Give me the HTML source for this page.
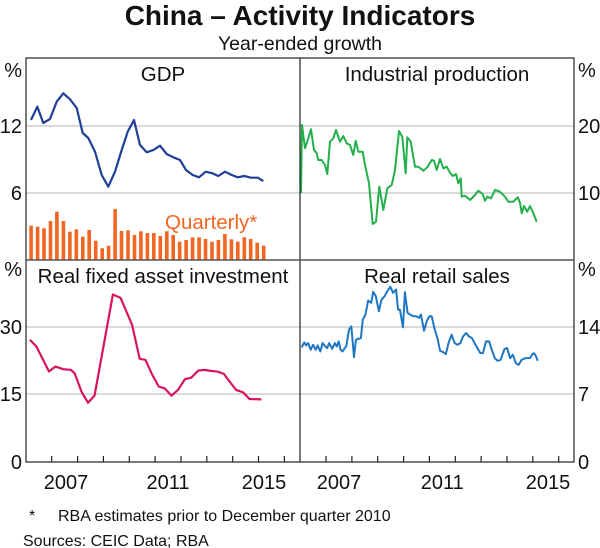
<!DOCTYPE html>
<html><head><meta charset="utf-8"><style>
body{margin:0;background:#fff;}
svg{display:block;font-family:"Liberation Sans",Arial,sans-serif;}
</style></head><body>
<svg width="600" height="548" viewBox="0 0 600 548" xmlns="http://www.w3.org/2000/svg">
<text x="300" y="25" text-anchor="middle" font-size="28" font-weight="bold" fill="#111">China – Activity Indicators</text>
<text x="300" y="50" text-anchor="middle" font-size="19.5" fill="#111">Year-ended growth</text>

<g stroke="#c4c4c4" stroke-width="1.2">
<line x1="26" y1="126" x2="574" y2="126"/>
<line x1="26" y1="193" x2="574" y2="193"/>
<line x1="26" y1="327" x2="574" y2="327"/>
<line x1="26" y1="394" x2="574" y2="394"/>
</g>

<g fill="#f26522">
<rect x="29.3" y="225.7" width="3.6" height="34.3"/>
<rect x="35.8" y="226.7" width="3.6" height="33.3"/>
<rect x="42.2" y="228.3" width="3.6" height="31.7"/>
<rect x="48.7" y="221" width="3.6" height="39"/>
<rect x="55.1" y="211.7" width="3.6" height="48.3"/>
<rect x="61.6" y="221" width="3.6" height="39"/>
<rect x="68.1" y="231.7" width="3.6" height="28.3"/>
<rect x="74.5" y="229.3" width="3.6" height="30.7"/>
<rect x="81" y="236.7" width="3.6" height="23.3"/>
<rect x="87.4" y="230" width="3.6" height="30"/>
<rect x="93.9" y="240.7" width="3.6" height="19.3"/>
<rect x="100.4" y="248.3" width="3.6" height="11.7"/>
<rect x="106.8" y="245.7" width="3.6" height="14.3"/>
<rect x="113.3" y="209" width="3.6" height="51"/>
<rect x="119.7" y="231" width="3.6" height="29"/>
<rect x="126.2" y="230.3" width="3.6" height="29.7"/>
<rect x="132.7" y="235" width="3.6" height="25"/>
<rect x="139.1" y="231.3" width="3.6" height="28.7"/>
<rect x="145.6" y="233" width="3.6" height="27"/>
<rect x="152" y="233" width="3.6" height="27"/>
<rect x="158.5" y="236" width="3.6" height="24"/>
<rect x="165" y="231.3" width="3.6" height="28.7"/>
<rect x="171.4" y="235" width="3.6" height="25"/>
<rect x="177.9" y="241.7" width="3.6" height="18.3"/>
<rect x="184.3" y="240" width="3.6" height="20"/>
<rect x="190.8" y="237.3" width="3.6" height="22.7"/>
<rect x="197.3" y="237.3" width="3.6" height="22.7"/>
<rect x="203.7" y="239" width="3.6" height="21"/>
<rect x="210.2" y="241.7" width="3.6" height="18.3"/>
<rect x="216.6" y="240" width="3.6" height="20"/>
<rect x="223.1" y="234" width="3.6" height="26"/>
<rect x="229.6" y="239.3" width="3.6" height="20.7"/>
<rect x="236" y="241.7" width="3.6" height="18.3"/>
<rect x="242.5" y="237.3" width="3.6" height="22.7"/>
<rect x="248.9" y="239" width="3.6" height="21"/>
<rect x="255.4" y="242.7" width="3.6" height="17.3"/>
<rect x="261.9" y="245.7" width="3.6" height="14.3"/>
</g>
<text x="165" y="229" font-size="20.5" fill="#f26522">Quarterly*</text>

<polyline fill="none" stroke="#1f3f99" stroke-width="2.2" stroke-linejoin="round" points="31,120 37.3,106.7 43.3,123 50,119 56.7,101.7 63.3,93.3 70,99.3 76.7,108 82.7,133 88.3,138 95,151.7 101.7,175 108.3,186.7 115,171.7 121.7,150 127.7,131.7 134,120 140,145 146.7,152.3 153.3,150 160,145.7 166.7,154 173.3,157.3 180,160 186,170 192.7,175 199,177.3 205.7,171.7 212.3,173.3 218.3,176 225,171.7 231.7,175 237.7,177.3 244.3,176 251,177.7 257.7,177.7 263.3,181"/>

<polyline fill="none" stroke="#22b04b" stroke-width="2" stroke-linejoin="round" points="301,193 302,125 305,148.3 308.3,138.3 311,129.3 314,150 316.7,153.3 318.3,160 321.7,160 325,165 327.3,174 330,141.7 333.3,138.3 336,130 340,141.7 343.3,136 346.7,143.3 350,145 353.3,155 355.7,140.7 358.3,151.7 362.7,151.7 365,165 369,183.3 372.7,224 376,221.7 379.3,186.7 383.3,210 387.3,188.3 391.7,185 395,170 399,131 402.3,136.7 405.7,173.3 407.3,137.3 410.7,141.7 415,166.7 418.3,166.7 423.3,170.7 427.3,167.3 431.7,160 434,160.7 436.7,170 440,159 443.3,168.3 446.7,166.7 450,172.7 452.7,176 456,174 458.3,183.3 460.7,178.3 461.7,196.7 465,195.7 470,200 475,195 478.3,190.7 482.7,194 485,200.7 487.3,196.7 491,198.3 495,190 500,191.7 505,196.7 508.3,201.7 513.3,201.7 517.7,197.3 520,202.7 521.7,213.3 524,206 527.3,211.7 530,206 532.7,211.7 536.7,221.7"/>

<g transform="translate(0,254.3) scale(0.3827,0.335)">
<polyline fill="none" stroke="#d6145f" stroke-width="2.2" vector-effect="non-scaling-stroke" stroke-linejoin="round" points="78,255 95,275 128,350 145,335 165,343 185,345 195,355 213,410 230,443 247,422 295,120 315,130 345,210 365,312 380,315 398,360 415,395 430,400 448,422 465,405 483,373 500,368 518,347 535,345 550,348 568,350 585,357 600,380 617,405 635,412 652,432 683,433"/>
<polyline fill="none" stroke="#1f77c4" stroke-width="2" vector-effect="non-scaling-stroke" stroke-linejoin="round" points="788,278 795,263 800,272 805,265 812,285 818,270 825,285 830,272 837,290 843,265 850,275 855,280 860,265 868,282 875,265 880,275 885,260 890,285 895,290 905,273 912,225 918,215 925,307 930,255 943,250 948,195 955,180 962,138 970,145 975,112 982,125 990,170 997,135 1005,125 1012,110 1020,97 1027,115 1035,105 1040,165 1045,165 1053,218 1058,113 1065,175 1072,180 1080,185 1088,185 1095,190 1100,180 1108,228 1115,200 1122,185 1128,185 1135,220 1143,250 1150,288 1158,292 1165,298 1172,265 1180,240 1188,265 1195,270 1203,265 1210,245 1218,235 1225,245 1233,250 1240,265 1255,295 1262,295 1270,260 1278,260 1285,285 1293,310 1300,318 1308,315 1318,283 1325,280 1333,310 1340,300 1348,325 1355,330 1363,315 1373,310 1385,310 1390,300 1395,295 1400,303 1405,318"/>
</g>

<g stroke="#222" stroke-width="1.2" fill="none">
<rect x="26" y="58" width="548" height="404"/>
<line x1="300" y1="58" x2="300" y2="462"/>
<line x1="26" y1="260" x2="574" y2="260" stroke="#555" stroke-width="1.5"/>
</g>
<g stroke="#222" stroke-width="1.2">
<line x1="51.7" y1="462" x2="51.7" y2="456"/><line x1="77.6" y1="462" x2="77.6" y2="456"/><line x1="103.4" y1="462" x2="103.4" y2="456"/><line x1="129.3" y1="462" x2="129.3" y2="456"/><line x1="155.1" y1="462" x2="155.1" y2="456"/><line x1="181" y1="462" x2="181" y2="456"/><line x1="206.8" y1="462" x2="206.8" y2="456"/><line x1="232.7" y1="462" x2="232.7" y2="456"/><line x1="258.5" y1="462" x2="258.5" y2="456"/><line x1="284.4" y1="462" x2="284.4" y2="456"/>
<line x1="326" y1="462" x2="326" y2="456"/><line x1="351.9" y1="462" x2="351.9" y2="456"/><line x1="377.7" y1="462" x2="377.7" y2="456"/><line x1="403.6" y1="462" x2="403.6" y2="456"/><line x1="429.4" y1="462" x2="429.4" y2="456"/><line x1="455.3" y1="462" x2="455.3" y2="456"/><line x1="481.1" y1="462" x2="481.1" y2="456"/><line x1="507" y1="462" x2="507" y2="456"/><line x1="532.8" y1="462" x2="532.8" y2="456"/><line x1="558.7" y1="462" x2="558.7" y2="456"/>
</g>

<g font-size="20.5" fill="#111" text-anchor="middle">
<text x="163" y="81">GDP</text>
<text x="437" y="81">Industrial production</text>
<text x="163" y="283">Real fixed asset investment</text>
<text x="437" y="283">Real retail sales</text>
</g>

<g font-size="20" fill="#111">
<text x="22" y="77" text-anchor="end">%</text>
<text x="22" y="133" text-anchor="end">12</text>
<text x="22" y="200" text-anchor="end">6</text>
<text x="22" y="276" text-anchor="end">%</text>
<text x="22" y="334" text-anchor="end">30</text>
<text x="22" y="401" text-anchor="end">15</text>
<text x="22" y="469" text-anchor="end">0</text>
<text x="578" y="77">%</text>
<text x="578" y="133">20</text>
<text x="578" y="200">10</text>
<text x="578" y="276">%</text>
<text x="578" y="334">14</text>
<text x="578" y="401">7</text>
<text x="578" y="469">0</text>
</g>
<g font-size="20" fill="#111" text-anchor="middle">
<text x="66" y="489">2007</text>
<text x="168" y="489">2011</text>
<text x="264" y="489">2015</text>
<text x="339" y="489">2007</text>
<text x="442.3" y="489">2011</text>
<text x="548" y="489">2015</text>
</g>

<g font-size="16" fill="#111">
<text x="29" y="521">*</text>
<text x="58" y="521">RBA estimates prior to December quarter 2010</text>
<text x="23" y="546">Sources:  CEIC Data; RBA</text>
</g>
</svg>
</body></html>
